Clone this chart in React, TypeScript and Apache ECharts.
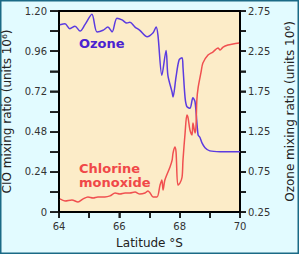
import React, { useEffect, useRef } from "react";
import * as echarts from "echarts";

const ozoneLat = [64.03, 64.2, 64.36, 64.53, 64.7, 64.86, 65.09, 65.26, 65.46, 65.62, 65.76, 65.92, 66.09, 66.25, 66.35, 66.52, 66.68, 66.92, 67.12, 67.22, 67.28, 67.41, 67.55, 67.61, 67.75, 67.78, 67.88, 67.98, 68.08, 68.11, 68.18, 68.24, 68.34, 68.44, 68.51, 68.61, 68.67, 68.74, 68.84, 69.0, 69.34, 70.0];
const ozoneVal = [2.58, 2.59, 2.53, 2.56, 2.5, 2.58, 2.71, 2.49, 2.51, 2.55, 2.49, 2.66, 2.64, 2.6, 2.61, 2.55, 2.51, 2.43, 2.48, 2.55, 2.45, 1.95, 2.26, 1.95, 1.74, 1.68, 1.93, 2.14, 2.17, 2.05, 1.67, 1.56, 1.54, 1.67, 1.62, 1.21, 1.18, 1.11, 1.05, 1.01, 1.0, 1.0];

const cloLat = [64.03, 64.2, 64.43, 64.63, 64.8, 64.96, 65.13, 65.29, 65.52, 65.69, 65.86, 66.02, 66.19, 66.35, 66.52, 66.68, 66.85, 66.95, 67.02, 67.12, 67.25, 67.35, 67.41, 67.45, 67.51, 67.68, 67.75, 67.78, 67.84, 67.88, 67.94, 68.01, 68.08, 68.11, 68.18, 68.24, 68.28, 68.34, 68.41, 68.44, 68.51, 68.54, 68.57, 68.61, 68.71, 68.77, 68.94, 69.1, 69.27, 69.34, 69.44, 69.6, 69.77, 69.97];
const cloVal = [0.078, 0.066, 0.072, 0.06, 0.078, 0.09, 0.084, 0.09, 0.09, 0.096, 0.113, 0.107, 0.113, 0.113, 0.119, 0.107, 0.113, 0.125, 0.113, 0.09, 0.09, 0.161, 0.191, 0.131, 0.191, 0.269, 0.31, 0.352, 0.388, 0.358, 0.161, 0.173, 0.209, 0.31, 0.472, 0.579, 0.561, 0.49, 0.46, 0.531, 0.472, 0.507, 0.669, 0.74, 0.836, 0.89, 0.937, 0.955, 0.979, 0.967, 0.985, 0.997, 1.003, 1.009];

const latTicks = [64, 65, 66, 67, 68, 69, 70];
const cloTicks = [0, 0.12, 0.24, 0.36, 0.48, 0.6, 0.72, 0.84, 0.96, 1.08, 1.2];
const ozoneTicks = [0.25, 0.5, 0.75, 1.0, 1.25, 1.5, 1.75, 2.0, 2.25, 2.5, 2.75];

const FONT = "DejaVu Sans";

export default function App() {
  const ref = useRef<HTMLDivElement>(null);
  useEffect(() => {
    document.body.style.margin = "0";
    const chart = echarts.init(ref.current!, null, { renderer: "svg" });
    const tickLabel = { fontFamily: FONT, fontSize: 10, color: "#333" };
    const axisTickOpt = (len: number) => ({
      show: true,
      inside: false,
      length: len,
      lineStyle: { color: "#000", width: 1.5 },
    });
    const baseGraphic: any[] = [
      {
        type: "rect",
        shape: { x: 0.75, y: 0.75, width: 297.5, height: 252.5 },
        style: { fill: "none", stroke: "#1b6a86", lineWidth: 1.5 },
        silent: true,
      },
      {
        type: "text",
        left: 79,
        top: 37,
        style: { text: "Ozone", fill: "#4a22d0", font: `bold 13px ${FONT}` },
      },
      {
        type: "text",
        left: 79,
        top: 161,
        style: {
          text: "Chlorine\nmonoxide",
          fill: "#f04848",
          font: `bold 13px ${FONT}`,
          lineHeight: 14,
        },
      },
    ];
    chart.setOption({
      animation: false,
      backgroundColor: "#e2fbff",
      grid: {
        left: 59,
        right: 59,
        top: 11,
        bottom: 42,
        show: true,
        backgroundColor: "#fcecc8",
        borderColor: "#000",
        borderWidth: 2,
        containLabel: false,
        outerBoundsMode: "none",
      },
      graphic: baseGraphic,
      xAxis: {
        type: "value",
        min: 64,
        max: 70,
        interval: 1,
        name: "Latitude °S",
        nameLocation: "middle",
        nameGap: 25,
        nameTextStyle: { fontFamily: FONT, fontSize: 12, color: "#222" },
        axisLine: { show: true, onZero: false, lineStyle: { color: "#000", width: 2 } },
        axisTick: axisTickOpt(6),
        axisLabel: {
          ...tickLabel,
          margin: 9,
          formatter: (v: number) => (Math.round(v) % 2 === 0 ? String(Math.round(v)) : ""),
        },
        splitLine: { show: false },
      },
      yAxis: [
        {
          type: "value",
          min: 0,
          max: 1.2,
          interval: 0.12,
          position: "left",
          name: "CIO mixing ratio (units 10⁶)",
          nameLocation: "middle",
          nameGap: 46,
          nameRotate: 90,
          nameTextStyle: { fontFamily: FONT, fontSize: 12, color: "#222" },
          axisLine: { show: true, onZero: false, lineStyle: { color: "#000", width: 2 } },
          axisTick: axisTickOpt(9),
          axisLabel: {
            ...tickLabel,
            margin: 12,
            formatter: (v: number) => {
              const k = Math.round(v / 0.12);
              if (k % 2 !== 0) return "";
              return k === 0 ? "0" : v.toFixed(2);
            },
          },
          splitLine: { show: false },
        },
        {
          type: "value",
          min: 0.25,
          max: 2.75,
          interval: 0.25,
          position: "right",
          name: "Ozone mixing ratio (units 10⁶)",
          nameLocation: "middle",
          nameGap: 44,
          nameRotate: 90,
          nameTextStyle: { fontFamily: FONT, fontSize: 12, color: "#222" },
          axisLine: { show: true, onZero: false, lineStyle: { color: "#000", width: 2 } },
          axisTick: axisTickOpt(6),
          axisLabel: {
            ...tickLabel,
            margin: 8,
            formatter: (v: number) => {
              const k = Math.round((v - 0.25) / 0.25);
              return k % 2 === 0 ? v.toFixed(2) : "";
            },
          },
          splitLine: { show: false },
        },
      ],
      series: [
        {
          type: "line",
          yAxisIndex: 1,
          data: ozoneLat.map((x, i) => [x, ozoneVal[i]]),
          showSymbol: false,
          smooth: 0.3,
          lineStyle: { color: "#5b3be0", width: 1.5 },
          itemStyle: { color: "#5b3be0" },
        },
        {
          type: "line",
          yAxisIndex: 0,
          data: cloLat.map((x, i) => [x, cloVal[i]]),
          showSymbol: false,
          smooth: 0.3,
          lineStyle: { color: "#f05050", width: 1.5 },
          itemStyle: { color: "#f05050" },
        },
      ],
    });

    // Tick marks as small filled rects, placed through the library's own axis scales
    const px = (finder: any, v: number) => {
      const r: any = chart.convertToPixel(finder, v);
      return Array.isArray(r) ? Number(r[0]) : Number(r);
    };
    const x0 = px({ xAxisIndex: 0 }, 64);
    const x1 = px({ xAxisIndex: 0 }, 70);
    const yBottom = px({ yAxisIndex: 0 }, 0);
    const tickFill = { fill: "#111" };
    const ticks: any[] = [];
    if ([x0, x1, yBottom].every((n) => isFinite(n))) {
      latTicks.forEach((v) => {
        const p = px({ xAxisIndex: 0 }, v);
        if (isFinite(p))
          ticks.push({ type: "rect", silent: true, z: 50, shape: { x: Math.round(p) - 0.5, y: yBottom, width: 1.2, height: 6 }, style: tickFill });
      });
      cloTicks.forEach((v) => {
        const p = px({ yAxisIndex: 0 }, v);
        if (isFinite(p))
          ticks.push({ type: "rect", silent: true, z: 50, shape: { x: x0 - 9, y: Math.round(p) - 0.5, width: 9, height: 1.2 }, style: tickFill });
      });
      ozoneTicks.forEach((v) => {
        const p = px({ yAxisIndex: 1 }, v);
        if (isFinite(p))
          ticks.push({ type: "rect", silent: true, z: 50, shape: { x: x1, y: Math.round(p) - 0.5, width: 6, height: 1.2 }, style: tickFill });
      });
      chart.setOption({ graphic: [...baseGraphic, ...ticks] });
    }

    return () => chart.dispose();
  }, []);
  return <div ref={ref} style={{ width: 299, height: 254, position: "absolute", left: 0, top: 0 }} />;
}
